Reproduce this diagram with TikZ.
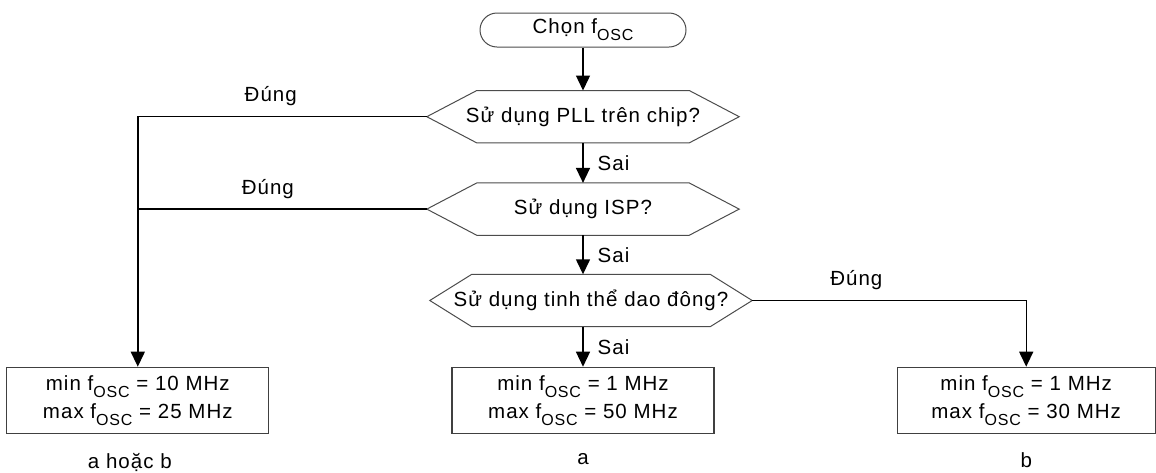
\documentclass[tikz,border=0pt]{standalone}
\usepackage{fontspec}
\setmainfont{Liberation Sans}[LetterSpace=5]
\usetikzlibrary{arrows.meta, positioning}
\newcommand{\fosc}{f\raisebox{-0.33em}{\fontsize{16}{16}\selectfont OSC}}

\begin{document}
\begin{tikzpicture}[
    x=1pt, y=-1pt,
    node distance=40pt and 182pt,
    font=\fontsize{20.5}{28}\selectfont,
    startbox/.style={draw=black!70, line width=1pt, rounded corners=17pt, minimum width=206pt, minimum height=34pt, inner sep=0pt},
    decision/.style={minimum height=52pt, inner sep=0pt},
    hexframe/.style={draw=black!70, line width=1pt},
    resultbox/.style={draw=black!75, line width=1.2pt, minimum width=262pt, minimum height=66pt, align=center, inner sep=0pt},
    arrow/.style={-{Triangle[width=14pt,length=15pt]}, line width=1.4pt},
    plainline/.style={line width=1.4pt},
    lbl/.style={inner sep=0pt}
]
\useasboundingbox (0,0) rectangle (1156,472);

% Main column
\node[startbox] (start) at (583,30) {Chọn \fosc};
\node[decision, minimum width=312pt, below=43pt of start] (D1) {Sử dụng PLL trên chip?};
\node[decision, minimum width=312pt, below=of D1] (D2) {Sử dụng ISP?};
\node[decision, minimum width=322pt, below=39pt of D2, xshift=8pt] (D3) {Sử dụng tinh thể dao đông?};

% Hexagon frames round the decisions
\foreach \n/\d in {D1/50, D2/50, D3/42}
  \draw[hexframe] (\n.west) -- ([xshift=\d pt]\n.north west) -- ([xshift=-\d pt]\n.north east)
    -- (\n.east) -- ([xshift=-\d pt]\n.south east) -- ([xshift=\d pt]\n.south west) -- cycle;

% Result boxes (bottom row)
\node[resultbox, below=40pt of D3, xshift=-8pt] (B2) {min \fosc{} = 1 MHz\\max \fosc{} = 50 MHz};
\node[resultbox, left=of B2] (B1) {min \fosc{} = 10 MHz\\max \fosc{} = 25 MHz};
\node[resultbox, minimum width=258pt, right=of B2] (B3) {min \fosc{} = 1 MHz\\max \fosc{} = 30 MHz};

% Captions
\node[lbl, below=19pt of B1, xshift=-8pt] (C1) {a hoặc b};
\node[lbl, below=19pt of B2] (C2) {a};
\node[lbl, below=19pt of B3] (C3) {b};

% Flow
\draw[arrow] (start) -- (D1);
\draw[arrow] (D1) -- (D2) node[lbl, midway, right=14pt] {Sai};
\draw[arrow] (D2.south) -- (D2.south |- D3.north) node[lbl, midway, right=14pt] {Sai};
\draw[arrow] (D3.south -| B2.north) -- (B2.north) node[lbl, midway, right=14pt] {Sai};

% Yes branches
\draw[arrow] (D1.west) -| (B1.north) node[lbl, pos=0.27, above=10pt] {Đúng};
\draw[plainline] (D2.west) -- (D2.west -| B1.north) node[lbl, pos=0.55, above=10pt] {Đúng};
\draw[arrow] (D3.east) -| (B3.north) node[lbl, pos=0.19, above=10pt] {Đúng};

\end{tikzpicture}
\end{document}
